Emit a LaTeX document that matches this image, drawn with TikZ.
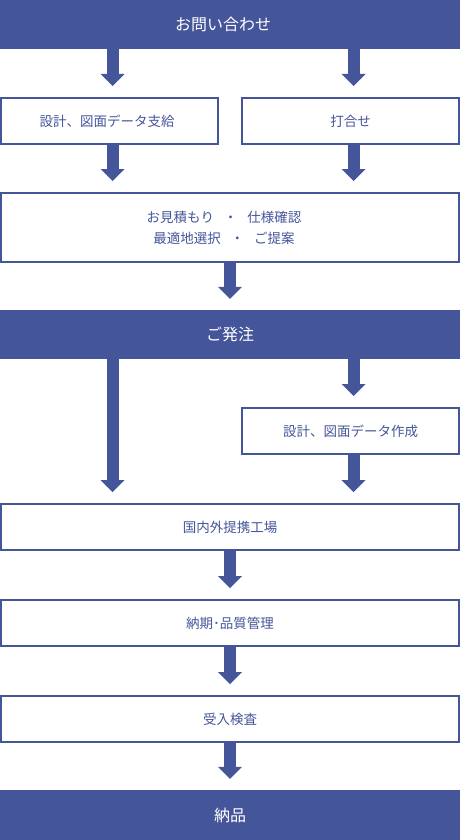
\documentclass[tikz,border=0pt]{standalone}
\usepackage{fontspec}
\setmainfont{Noto Sans CJK JP}
\usepackage{xcolor}
\usepackage{tikz}
\usetikzlibrary{arrows.meta,positioning}
\definecolor{navy}{HTML}{45559A}
\newcommand{\dotgap}{\hspace{10pt}・\hspace{10pt}}
\tikzset{
  bar/.style={fill=navy, text=white, minimum width=460pt, minimum height=49pt, inner sep=0pt, font=\fontsize{16}{20}\selectfont},
  stepbox/.style={draw=navy, line width=2pt, text=navy, minimum height=46pt, inner sep=0pt, align=center, font=\fontsize{13.5}{21}\selectfont},
  half/.style={stepbox, minimum width=217pt},
  full/.style={stepbox, minimum width=458pt},
  fat/.style={draw=navy, line width=12pt, shorten >=11pt, -{Triangle[length=12pt, width=24pt, line width=0pt]}}
}
\begin{document}
\begin{tikzpicture}[x=1pt, y=-1pt]
\useasboundingbox (0,0) rectangle (460,840);
\coordinate (cl) at (112.5,0);
\coordinate (cm) at (230,0);
\coordinate (cr) at (353.5,0);
\node[bar] (inquiry) at (230,24.5) {\hspace*{-14pt}お問い合わせ};
\node[half] (supply) at (109.5,121) {\hspace*{-5pt}設計、図面データ支給};
\node[half] (meeting) at (350.5,121) {打合せ};
\node[full, minimum height=69pt] (estimate) at (230,227.5) {\hspace*{-12pt}お見積もり\dotgap 仕様確認\\\hspace*{-12pt}最適地選択\dotgap ご提案};
\node[bar] (order) at (230,334.5) {ご発注};
\node[half] (drawing) at (350.5,431) {設計、図面データ作成};
\node[full] (factory) at (230,527) {国内外提携工場};
\node[full] (quality) at (230,623) {納期･品質管理};
\node[full] (inspect) at (230,719) {受入検査};
\node[bar, minimum height=50pt] (delivery) at (230,815) {納品};
\draw[fat] (inquiry.south -| cl) -- (supply.north -| cl);
\draw[fat] (inquiry.south -| cr) -- (meeting.north -| cr);
\draw[fat] (supply.south -| cl) -- (estimate.north -| cl);
\draw[fat] (meeting.south -| cr) -- (estimate.north -| cr);
\draw[fat] (estimate.south -| cm) -- (order.north -| cm);
\draw[fat] (order.south -| cl) -- (factory.north -| cl);
\draw[fat] (order.south -| cr) -- (drawing.north -| cr);
\draw[fat] (drawing.south -| cr) -- (factory.north -| cr);
\draw[fat] (factory.south -| cm) -- (quality.north -| cm);
\draw[fat] (quality.south -| cm) -- (inspect.north -| cm);
\draw[fat] (inspect.south -| cm) -- (delivery.north -| cm);
\end{tikzpicture}
\end{document}
